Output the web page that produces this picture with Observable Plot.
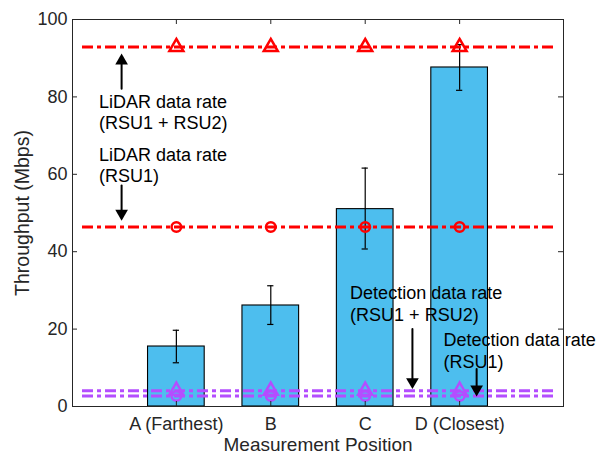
<!DOCTYPE html>
<html><head><meta charset="utf-8">
<script src="https://cdn.jsdelivr.net/npm/d3@7"></script>
<script src="https://cdn.jsdelivr.net/npm/@observablehq/plot@0.6"></script>
<style>html,body{margin:0;padding:0;background:#fff;}</style>
</head><body><div id="chart"></div>
<script>
// ---- data ----
const positions = ["A (Farthest)", "B", "C", "D (Closest)"];
const xIndex = [1, 2, 3, 4];
const throughput = [15.5, 26.1, 51.0, 87.6];
const errLow = [11.3, 21.2, 40.7, 81.7];
const errHigh = [19.7, 31.2, 61.6, 93.5];
const lidarRsu12 = 92.9;   // LiDAR data rate (RSU1 + RSU2)
const lidarRsu1 = 46.4;    // LiDAR data rate (RSU1)
const detRsu12 = 4.1;      // Detection data rate (RSU1 + RSU2)
const detRsu1 = 2.7;       // Detection data rate (RSU1)
const yTicks = [0, 20, 40, 60, 80, 100];
const annoTexts = ["LiDAR data rate\n(RSU1 + RSU2)", "LiDAR data rate\n(RSU1)", "Detection data rate\n(RSU1 + RSU2)", "Detection data rate\n(RSU1)"];
const annoX = [0.18, 0.18, 2.84, 3.83];
const annoY = [76.2, 62.5, 26.7, 14.6];
const arrowX = [0.42, 0.42, 3.50, 4.18];
const arrowFrom = [82.1, 57.1, 20.0, 9.7];
const arrowTo = [91.2, 48.0, 4.5, 2.6];

// ---- tables ----
const bars = xIndex.map((x, i) => ({x, name: positions[i], v: throughput[i], lo: errLow[i], hi: errHigh[i]}));
const levels = [
  {v: lidarRsu12, color: "#ff0000", symbol: "triangle"},
  {v: lidarRsu1, color: "#ff0000", symbol: "circle"},
  {v: detRsu12, color: "#b44dff", symbol: "triangle"},
  {v: detRsu1, color: "#b44dff", symbol: "circle"}
];
const markers = levels.flatMap(l => xIndex.map(x => ({x, v: l.v, color: l.color, symbol: l.symbol})));
const triMarkers = markers.filter(d => d.symbol === "triangle");
const circMarkers = markers.filter(d => d.symbol === "circle");
const annos = annoTexts.map((t, i) => ({t, x: annoX[i], y: annoY[i]}));
const arrows = arrowX.map((x, i) => ({x, y1: arrowFrom[i], y2: arrowTo[i], up: arrowTo[i] > arrowFrom[i]}));
const arrowsUp = arrows.filter(d => d.up);
const arrowsDown = arrows.filter(d => !d.up);

// ---- layout ----
const W = 608, H = 456, mL = 72, mR = 45, mT = 19, mB = 50;
const plotW = W - mL - mR, plotH = H - mT - mB;
const barHalf = 0.3, capHalf = 0.033;
const axisColor = "#262626";
const font = "'Liberation Sans', Arial, Helvetica, sans-serif";

const chart = Plot.plot({
  width: W, height: H,
  marginLeft: mL, marginRight: mR, marginTop: mT, marginBottom: mB,
  style: {fontFamily: font, fontSize: "18px", background: "#fff", overflow: "visible"},
  x: {type: "linear", domain: [-0.1, 5.1], axis: null},
  y: {type: "linear", domain: [0, 100], axis: null},
  marks: [
    Plot.rectY(bars, {x1: d => d.x - barHalf, x2: d => d.x + barHalf, y1: 0, y2: "v", fill: "#4dbeee", stroke: "#000", strokeWidth: 1.1}),
    Plot.ruleX(bars, {x: "x", y1: "lo", y2: "hi", stroke: "#000", strokeWidth: 1.2}),
    Plot.ruleY(bars, {y: "lo", x1: d => d.x - capHalf, x2: d => d.x + capHalf, stroke: "#000", strokeWidth: 1.2}),
    Plot.ruleY(bars, {y: "hi", x1: d => d.x - capHalf, x2: d => d.x + capHalf, stroke: "#000", strokeWidth: 1.2}),
    Plot.ruleY(levels, {y: "v", stroke: "color", strokeWidth: 3, strokeDasharray: "11,4,4,4", insetLeft: 10, insetRight: 9}),
    Plot.dot(triMarkers, {x: "x", y: "v", symbol: "triangle", r: 5.2, stroke: "color", strokeWidth: 2.5, fill: "none"}),
    Plot.dot(circMarkers, {x: "x", y: "v", symbol: "circle", r: 4.8, stroke: "color", strokeWidth: 2.5, fill: "none"}),
    // frame + inward ticks
    Plot.frame({stroke: axisColor, strokeWidth: 1}),
    Plot.tickY(yTicks, {y: d => d, insetRight: plotW - 5, stroke: axisColor}),
    Plot.tickY(yTicks, {y: d => d, insetLeft: plotW - 5, stroke: axisColor}),
    Plot.tickX(xIndex, {x: d => d, insetBottom: plotH - 5, stroke: axisColor}),
    Plot.tickX(xIndex, {x: d => d, insetTop: plotH - 5, stroke: axisColor}),
    Plot.axisY({ticks: yTicks, tickSize: 0, tickPadding: 5, label: null, fill: axisColor, fontSize: 18}),
    Plot.axisX({ticks: xIndex, tickSize: 0, tickPadding: 11, tickFormat: d => positions[d - 1], label: null, fill: axisColor, fontSize: 18}),
    Plot.text(["Throughput (Mbps)"], {frameAnchor: "left", rotate: -90, dx: -49.5, textAnchor: "middle", lineAnchor: "middle", fontSize: 19.5, fill: axisColor}),
    Plot.text(["Measurement Position"], {frameAnchor: "bottom", dy: 38.5, textAnchor: "middle", lineAnchor: "middle", fontSize: 19, fill: axisColor}),
    // annotations
    Plot.text(annos, {x: "x", y: "y", text: "t", textAnchor: "start", lineAnchor: "middle", lineHeight: 1.2, fontSize: 18, fill: "#000"}),
    Plot.arrow(arrows, {x1: "x", y1: "y1", x2: "x", y2: "y2", headLength: 0, insetEnd: 6, stroke: "#000", strokeWidth: 2}),
    Plot.dot(arrowsUp, {x: "x", y: "y2", symbol: "triangle", r: 4.7, fill: "#000", stroke: "none", dy: 7.3}),
    Plot.dot(arrowsDown, {x: "x", y: "y2", symbol: "triangle", r: 4.7, fill: "#000", stroke: "none", rotate: 180, dy: -7.3})
  ]
});
document.getElementById("chart").appendChild(chart);
</script>
</body></html>
